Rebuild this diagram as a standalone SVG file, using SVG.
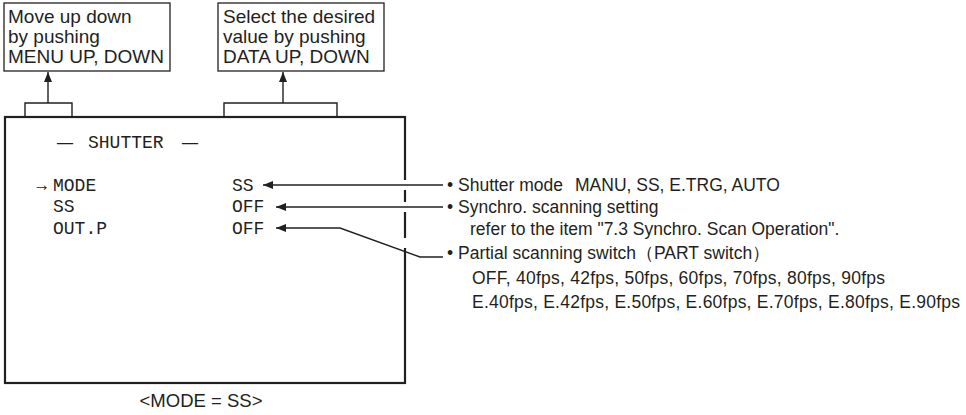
<svg xmlns="http://www.w3.org/2000/svg" width="966" height="415" viewBox="0 0 966 415">
<style>
.box{fill:#fff;stroke:#231f20;stroke-width:1.3}
.scr{fill:none;stroke:#231f20;stroke-width:2.2}
.ln{fill:none;stroke:#231f20;stroke-width:1.4}
.t{font-family:"Liberation Sans",Arial,sans-serif;font-size:19px;fill:#231f20}
.c{font-family:"Liberation Sans",Arial,sans-serif;font-size:18.5px;fill:#231f20}
.r{font-family:"Liberation Sans",Arial,sans-serif;font-size:17.5px;fill:#231f20}
.m{font-family:"Liberation Mono","Courier New",monospace;font-size:18px;fill:#231f20}
</style>
<defs>
<marker id="ah" viewBox="0 0 10 8" refX="10" refY="4" markerWidth="10" markerHeight="8" markerUnits="userSpaceOnUse" orient="auto">
<path d="M0,0 L10,4 L0,8 Z" fill="#231f20"/>
</marker>
</defs>
<g id="note-menu">
<rect class="box" x="4" y="3" width="166" height="68"/>
<text class="t" x="8" y="23">Move up down</text>
<text class="t" x="8" y="43">by pushing</text>
<text class="t" x="8" y="63">MENU UP, DOWN</text>
</g>
<g id="note-data">
<rect class="box" x="218" y="3" width="166" height="68"/>
<text class="t" x="223" y="23">Select the desired</text>
<text class="t" x="223" y="43">value by pushing</text>
<text class="t" x="223" y="63">DATA UP, DOWN</text>
</g>
<g id="screen">
<rect class="scr" x="5" y="117" width="400" height="266"/>
<text class="m" x="57" y="148" textLength="16" lengthAdjust="spacingAndGlyphs">—</text>
<text class="m" x="88" y="148">SHUTTER</text>
<text class="m" x="182" y="148" textLength="16" lengthAdjust="spacingAndGlyphs">—</text>
<text class="c" x="33" y="191" textLength="17" lengthAdjust="spacingAndGlyphs">→</text>
<text class="m" x="53" y="191">MODE</text>
<text class="m" x="53" y="212">SS</text>
<text class="m" x="53" y="234">OUT.P</text>
<text class="m" x="232" y="191">SS</text>
<text class="m" x="232" y="212">OFF</text>
<text class="m" x="232" y="234">OFF</text>
</g>
<g id="desc-mode">
<text class="r" x="447" y="191">• Shutter mode</text>
<text class="r" x="575" y="191">MANU, SS, E.TRG, AUTO</text>
</g>
<g id="desc-ss">
<text class="r" x="447" y="213">• Synchro. scanning setting</text>
<text class="r" x="470" y="235">refer to the item "7.3 Synchro. Scan Operation".</text>
</g>
<g id="desc-outp">
<text class="r" x="447" y="259">• Partial scanning switch（PART switch）</text>
<text class="r" x="472" y="284" textLength="413">OFF, 40fps, 42fps, 50fps, 60fps, 70fps, 80fps, 90fps</text>
<text class="r" x="472" y="308" textLength="488">E.40fps, E.42fps, E.50fps, E.60fps, E.70fps, E.80fps, E.90fps</text>
</g>
<text class="c" x="201" y="407" text-anchor="middle">&lt;MODE = SS&gt;</text>
<g id="connectors">
<path class="ln" d="M25,116 V103 H72 V116"/>
<path class="ln" d="M48,103 V72" marker-end="url(#ah)"/>
<path class="ln" d="M224,116 V103 H337 V116"/>
<path class="ln" d="M283,103 V72" marker-end="url(#ah)"/>
<g stroke="#fff" stroke-width="6">
<path d="M405,180 V190 M405,202 V212 M405,238 V248"/>
</g>
<path class="ln" d="M443,185 H263" marker-end="url(#ah)"/>
<path class="ln" d="M443,207 H276" marker-end="url(#ah)"/>
<path class="ln" d="M443,257 H420 L340,228 H276" marker-end="url(#ah)"/>
</g>
</svg>
